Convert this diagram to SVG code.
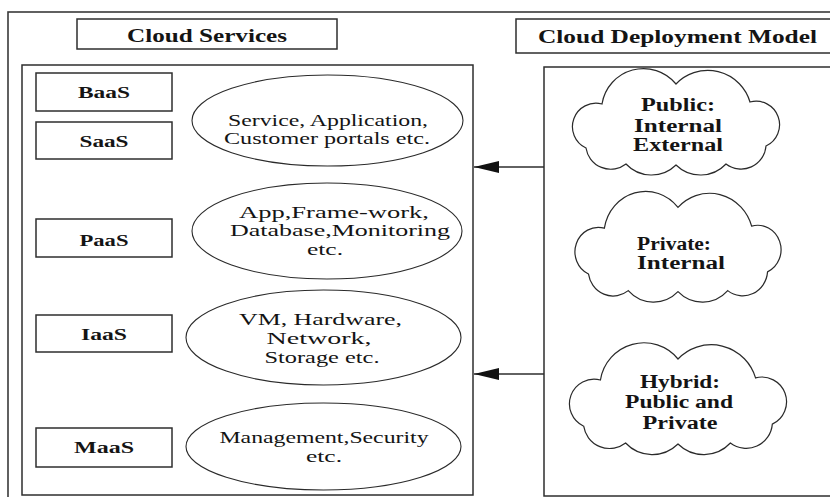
<svg xmlns="http://www.w3.org/2000/svg" xmlns:xlink="http://www.w3.org/1999/xlink" width="830" height="497" viewBox="0 0 830 497">
<style>
.frame{fill:none;stroke:#3a3a3a;stroke-width:1.6}
.box{fill:#fff;stroke:#2e2e2e;stroke-width:1.5}
.oval{fill:#fff;stroke:#2a2a2a;stroke-width:1.1}
.cloud{fill:#fff;stroke:#2a2a2a;stroke-width:1.2}
.b{font-family:"Liberation Serif","Times New Roman",serif;font-weight:bold;fill:#141414;text-anchor:middle}
.r{font-family:"Liberation Serif","Times New Roman",serif;font-size:16px;fill:#141414;text-anchor:middle}
.conn{stroke:#2e2e2e;stroke-width:1.5;fill:none}
</style>
<defs>
<path id="cloudShape" vector-effect="non-scaling-stroke" d="M -74,-20 A 42 42 0 0 1 0,-40 A 44 44 0 0 1 74,-22 A 23.5 23.5 0 0 1 90,22 A 25 25 0 0 1 50,40 A 35 35 0 0 1 0,41 A 35 35 0 0 1 -50,40 A 25 25 0 0 1 -90,24 A 23.5 23.5 0 0 1 -74,-20 Z"/>
<marker id="arrow" markerUnits="userSpaceOnUse" markerWidth="26" markerHeight="12" viewBox="0 0 26 12" refX="25" refY="6" orient="auto">
<path d="M0,0 L25,6 L0,12 Z" fill="#111"/>
</marker>
</defs>
<rect width="830" height="497" fill="#fff"/>
<rect class="frame" x="8" y="12" width="840" height="500"/>

<g id="cloud-services-title">
<rect class="box" x="77" y="19" width="260" height="30"/>
<text class="b" x="207" y="42" font-size="18" textLength="160" lengthAdjust="spacingAndGlyphs">Cloud Services</text>
</g>
<g id="cloud-deployment-title">
<rect class="box" x="516" y="19" width="330" height="34"/>
<text class="b" x="677.5" y="43" font-size="18" textLength="279" lengthAdjust="spacingAndGlyphs">Cloud Deployment Model</text>
</g>

<g id="services-panel">
<rect class="box" x="22" y="65" width="451" height="430"/>
</g>
<g id="deployment-panel">
<rect class="box" x="544" y="67" width="300" height="429"/>
</g>

<g id="baas">
<rect class="box" x="36" y="73" width="136" height="38"/>
<text class="b" x="104" y="98" font-size="16" textLength="52" lengthAdjust="spacingAndGlyphs">BaaS</text>
</g>
<g id="saas">
<rect class="box" x="36" y="122" width="136" height="37"/>
<text class="b" x="104" y="147" font-size="16" textLength="49" lengthAdjust="spacingAndGlyphs">SaaS</text>
</g>
<g id="paas">
<rect class="box" x="36" y="219" width="136" height="38"/>
<text class="b" x="104" y="246" font-size="16" textLength="49" lengthAdjust="spacingAndGlyphs">PaaS</text>
</g>
<g id="iaas">
<rect class="box" x="36" y="315" width="136" height="37"/>
<text class="b" x="104" y="340" font-size="16" textLength="46" lengthAdjust="spacingAndGlyphs">IaaS</text>
</g>
<g id="maas">
<rect class="box" x="36" y="428" width="136" height="39"/>
<text class="b" x="104" y="453" font-size="16" textLength="60" lengthAdjust="spacingAndGlyphs">MaaS</text>
</g>

<g id="saas-detail">
<ellipse class="oval" cx="327.5" cy="120.5" rx="135.5" ry="45.5"/>
<text class="r" x="328" y="126" textLength="200" lengthAdjust="spacingAndGlyphs">Service, Application,</text>
<text class="r" x="327" y="144" textLength="206" lengthAdjust="spacingAndGlyphs">Customer portals etc.</text>
</g>
<g id="paas-detail">
<ellipse class="oval" cx="327" cy="231" rx="135" ry="48"/>
<text class="r" x="334" y="218" textLength="190" lengthAdjust="spacingAndGlyphs">App,Frame-work,</text>
<text class="r" x="340" y="236" textLength="220" lengthAdjust="spacingAndGlyphs">Database,Monitoring</text>
<text class="r" x="325" y="255" textLength="36" lengthAdjust="spacingAndGlyphs">etc.</text>
</g>
<g id="iaas-detail">
<ellipse class="oval" cx="323.5" cy="337.5" rx="137.5" ry="47.5"/>
<text class="r" x="320.5" y="325" textLength="163" lengthAdjust="spacingAndGlyphs">VM, Hardware,</text>
<text class="r" x="319" y="344" textLength="105" lengthAdjust="spacingAndGlyphs">Network,</text>
<text class="r" x="322" y="363" textLength="115" lengthAdjust="spacingAndGlyphs">Storage etc.</text>
</g>
<g id="maas-detail">
<ellipse class="oval" cx="323.5" cy="446.5" rx="137.5" ry="43.5"/>
<text class="r" x="324" y="443" textLength="209" lengthAdjust="spacingAndGlyphs">Management,Security</text>
<text class="r" x="324" y="462" textLength="36" lengthAdjust="spacingAndGlyphs">etc.</text>
</g>

<g id="public-cloud">
<use xlink:href="#cloudShape" class="cloud" transform="translate(676,124)"/>
<text class="b" x="678" y="111" font-size="18" textLength="74" lengthAdjust="spacingAndGlyphs">Public:</text>
<text class="b" x="678" y="132" font-size="18" textLength="88" lengthAdjust="spacingAndGlyphs">Internal</text>
<text class="b" x="678" y="151" font-size="18" textLength="90" lengthAdjust="spacingAndGlyphs">External</text>
</g>
<g id="private-cloud">
<use xlink:href="#cloudShape" class="cloud" transform="translate(678,249) scale(0.995,1.04)"/>
<text class="b" x="674" y="250" font-size="18" textLength="74" lengthAdjust="spacingAndGlyphs">Private:</text>
<text class="b" x="681" y="269" font-size="18" textLength="88" lengthAdjust="spacingAndGlyphs">Internal</text>
</g>
<g id="hybrid-cloud">
<use xlink:href="#cloudShape" class="cloud" transform="translate(678,401) scale(1.048,1.05)"/>
<text class="b" x="680" y="388" font-size="18" textLength="80" lengthAdjust="spacingAndGlyphs">Hybrid:</text>
<text class="b" x="679" y="408" font-size="18" textLength="108" lengthAdjust="spacingAndGlyphs">Public and</text>
<text class="b" x="680" y="429" font-size="18" textLength="75" lengthAdjust="spacingAndGlyphs">Private</text>
</g>

<g id="connectors">
<line class="conn" x1="544" y1="167" x2="474" y2="167" marker-end="url(#arrow)"/>
<line class="conn" x1="544" y1="374" x2="474" y2="374" marker-end="url(#arrow)"/>
</g>
</svg>
